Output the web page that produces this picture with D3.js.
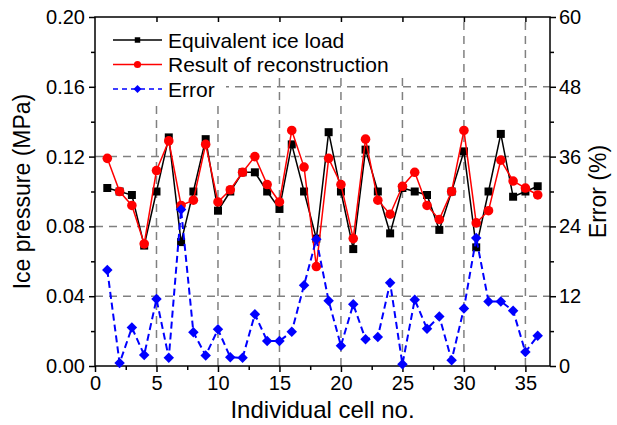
<!DOCTYPE html>
<html>
<head>
<meta charset="utf-8">
<script src="https://cdn.jsdelivr.net/npm/d3@7"></script>
<style>
  body { margin: 0; background: #fff; }
  svg { font-family: "Liberation Sans", Arial, sans-serif; }
</style>
</head>
<body>
<div id="container"></div>
<script>
//Width and height
var w = 617;
var h = 425;

//data
var cells = [1, 2, 3, 4, 5, 6, 7, 8, 9, 10, 11, 12, 13, 14, 15, 16, 17, 18,
    19, 20, 21, 22, 23, 24, 25, 26, 27, 28, 29, 30, 31, 32, 33, 34, 35, 36];
var iceLoad = [0.102, 0.100, 0.098, 0.069, 0.100, 0.131, 0.071, 0.100, 0.130, 0.089, 0.100, 0.111,
    0.111, 0.100, 0.090, 0.127, 0.100, 0.073, 0.134, 0.100, 0.067, 0.124, 0.100, 0.076,
    0.102, 0.100, 0.098, 0.078, 0.100, 0.123, 0.068, 0.100, 0.133, 0.097, 0.100, 0.103];
var reconstruction = [0.119, 0.100, 0.092, 0.070, 0.112, 0.129, 0.092, 0.095, 0.127, 0.094, 0.101, 0.111,
    0.120, 0.104, 0.094, 0.135, 0.114, 0.057, 0.119, 0.104, 0.073, 0.130, 0.095, 0.087,
    0.103, 0.111, 0.092, 0.084, 0.100, 0.135, 0.082, 0.089, 0.118, 0.106, 0.102, 0.098];
var errorPct = [16.5, 0.5, 6.6, 1.9, 11.5, 1.4, 26.9, 5.8, 1.8, 6.3, 1.5, 1.4,
    8.9, 4.3, 4.3, 5.9, 13.9, 21.8, 11.2, 3.5, 10.6, 4.6, 5.0, 14.3,
    0.3, 11.4, 6.4, 8.5, 1.0, 9.9, 22.0, 11.1, 11.1, 9.5, 2.4, 5.2];

var xTicks = [0, 5, 10, 15, 20, 25, 30, 35];
var yTicks = [0, 0.04, 0.08, 0.12, 0.16, 0.20];
var yRightTicks = [0, 12, 24, 36, 48, 60];
var legendNames = ['Equivalent ice load', 'Result of reconstruction', 'Error'];

//plot box
var pLeft = 95, pRight = 550, pTop = 17, pBottom = 366;

var x = d3.scaleLinear().domain([0, 37]).range([pLeft, pRight]);
var y = d3.scaleLinear().domain([0, 0.2]).range([pBottom, pTop]);
var yR = d3.scaleLinear().domain([0, 60]).range([pBottom, pTop]);

var svg = d3.select('#container')
    .append('svg')
    .attr('width', w)
    .attr('height', h)
    .style('background', '#fff');

//grid
var grid = svg.append('g')
    .attr('stroke', '#808080')
    .attr('stroke-width', 1.5)
    .attr('stroke-dasharray', '8,6');

grid.selectAll('line.gx')
    .data(xTicks.slice(1))
    .enter()
    .append('line')
    .attr('x1', function(d) { return x(d); })
    .attr('x2', function(d) { return x(d); })
    .attr('y1', pBottom)
    .attr('y2', pTop);

grid.selectAll('line.gy')
    .data(yTicks.slice(1, -1))
    .enter()
    .append('line')
    .attr('y1', function(d) { return y(d); })
    .attr('y2', function(d) { return y(d); })
    .attr('x1', pLeft)
    .attr('x2', pRight);

//white patch behind legend
svg.append('rect').attr('x', pLeft + 1).attr('y', pTop + 1)
    .attr('width', 310).attr('height', 60).attr('fill', '#fff');
svg.append('rect').attr('x', pLeft + 1).attr('y', pTop + 60)
    .attr('width', 130).attr('height', 24).attr('fill', '#fff');

//axes
function styleAxis(g) {
    g.select('.domain').remove();
    g.selectAll('line').attr('stroke', '#000').attr('stroke-width', 1.5);
    g.selectAll('text').attr('font-size', 20).attr('fill', '#000')
        .attr('font-family', '"Liberation Sans", Arial, sans-serif');
}

svg.append('g')
    .attr('transform', 'translate(0,' + pBottom + ')')
    .call(d3.axisBottom(x).tickValues(xTicks).tickSize(6).tickPadding(4).tickFormat(d3.format('d')))
    .call(styleAxis);
svg.append('g')
    .attr('transform', 'translate(0,' + pBottom + ')')
    .call(d3.axisBottom(x).tickValues(d3.range(2.5, 35, 5)).tickSize(4).tickFormat(''))
    .call(styleAxis);
svg.append('g')
    .attr('transform', 'translate(0,' + pTop + ')')
    .call(d3.axisTop(x).tickValues(xTicks.slice(1)).tickSize(-5).tickFormat(''))
    .call(styleAxis);

svg.append('g')
    .attr('transform', 'translate(' + pLeft + ',0)')
    .call(d3.axisLeft(y).tickValues(yTicks).tickSize(6).tickPadding(4).tickFormat(d3.format('.2f')))
    .call(styleAxis);
svg.append('g')
    .attr('transform', 'translate(' + pLeft + ',0)')
    .call(d3.axisLeft(y).tickValues(d3.range(0.02, 0.2, 0.04)).tickSize(4).tickFormat(''))
    .call(styleAxis);

svg.append('g')
    .attr('transform', 'translate(' + pRight + ',0)')
    .call(d3.axisRight(yR).tickValues(yRightTicks).tickSize(6).tickPadding(3).tickFormat(d3.format('d')))
    .call(styleAxis);
svg.append('g')
    .attr('transform', 'translate(' + pRight + ',0)')
    .call(d3.axisRight(yR).tickValues(d3.range(6, 60, 12)).tickSize(4).tickFormat(''))
    .call(styleAxis);

//frame
svg.append('rect')
    .attr('x', pLeft).attr('y', pTop)
    .attr('width', pRight - pLeft).attr('height', pBottom - pTop)
    .attr('fill', 'none').attr('stroke', '#000').attr('stroke-width', 1.5);

//axis titles
svg.append('text')
    .attr('transform', 'translate(30,' + (pTop + pBottom) / 2 + ') rotate(-90)')
    .attr('text-anchor', 'middle')
    .attr('font-size', 23)
    .text('Ice pressure (MPa)');
svg.append('text')
    .attr('transform', 'translate(606,' + (pTop + pBottom) / 2 + ') rotate(-90)')
    .attr('text-anchor', 'middle')
    .attr('font-size', 23)
    .text('Error (%)');
svg.append('text')
    .attr('x', (pLeft + pRight) / 2)
    .attr('y', 418)
    .attr('text-anchor', 'middle')
    .attr('font-size', 24)
    .text('Individual cell no.');

//series
function lineFor(scale, values) {
    return d3.line()
        .x(function(d, i) { return x(cells[i]); })
        .y(function(d) { return scale(d); })(values);
}

var square = d3.symbol().type(d3.symbolSquare).size(64);
var circle = d3.symbol().type(d3.symbolCircle).size(72);
var diamond = d3.symbol().type(d3.symbolDiamond2).size(70);

//equivalent ice load
svg.append('path')
    .attr('d', lineFor(y, iceLoad))
    .attr('fill', 'none').attr('stroke', '#000').attr('stroke-width', 1.5);
svg.selectAll('path.sq')
    .data(iceLoad)
    .enter()
    .append('path')
    .attr('class', 'sq')
    .attr('d', square)
    .attr('transform', function(d, i) { return 'translate(' + x(cells[i]) + ',' + y(d) + ')'; })
    .attr('fill', '#000');

//reconstruction
svg.append('path')
    .attr('d', lineFor(y, reconstruction))
    .attr('fill', 'none').attr('stroke', '#ff0000').attr('stroke-width', 1.5);
svg.selectAll('path.ci')
    .data(reconstruction)
    .enter()
    .append('path')
    .attr('class', 'ci')
    .attr('d', circle)
    .attr('transform', function(d, i) { return 'translate(' + x(cells[i]) + ',' + y(d) + ')'; })
    .attr('fill', '#ff0000');

//error
svg.append('path')
    .attr('d', lineFor(yR, errorPct))
    .attr('fill', 'none').attr('stroke', '#0000ff').attr('stroke-width', 2)
    .attr('stroke-dasharray', '7,4');
svg.selectAll('path.di')
    .data(errorPct)
    .enter()
    .append('path')
    .attr('class', 'di')
    .attr('d', diamond)
    .attr('transform', function(d, i) { return 'translate(' + x(cells[i]) + ',' + yR(d) + ')'; })
    .attr('fill', '#0000ff');

//legend
var legendStyles = [
    { color: '#000', dash: null, sym: d3.symbol().type(d3.symbolSquare).size(30) },
    { color: '#ff0000', dash: null, sym: d3.symbol().type(d3.symbolCircle).size(40) },
    { color: '#0000ff', dash: '5,4', sym: d3.symbol().type(d3.symbolDiamond2).size(40) }
];
var legend = svg.append('g');
var rows = legend.selectAll('g')
    .data(legendNames)
    .enter()
    .append('g')
    .attr('transform', function(d, i) { return 'translate(113,' + (40 + i * 24.5) + ')'; });
rows.append('line')
    .attr('x1', 0).attr('x2', 49)
    .attr('stroke', function(d, i) { return legendStyles[i].color; })
    .attr('stroke-width', 1.5)
    .attr('stroke-dasharray', function(d, i) { return legendStyles[i].dash; });
rows.append('path')
    .attr('d', function(d, i) { return legendStyles[i].sym(); })
    .attr('transform', 'translate(24.5,0)')
    .attr('fill', function(d, i) { return legendStyles[i].color; });
rows.append('text')
    .attr('x', 55)
    .attr('y', 7.5)
    .attr('font-size', 21)
    .text(function(d) { return d; });
</script>
</body>
</html>
